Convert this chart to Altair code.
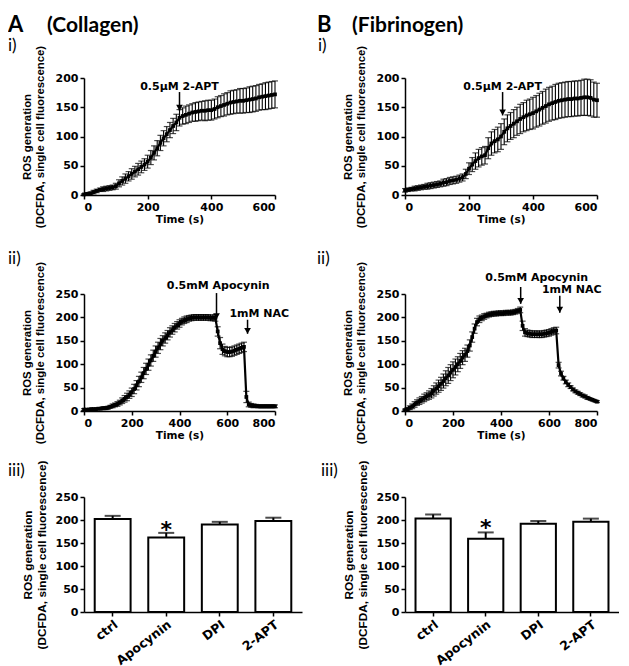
import altair as alt
import pandas as pd

# ---------------- data ----------------
T_I = list(range(0, 601, 10))
T_II = list(range(0, 801, 10))

A_I_MEAN = [1, 2, 3, 5, 7, 9, 10, 11, 12, 13,
            15, 20, 24, 28, 32, 36, 40, 44, 48, 52,
            57, 64, 72, 80, 89, 97, 104, 111, 118, 124,
            132, 135, 137, 139, 141, 142, 143, 144, 144, 145,
            145, 147, 150, 152, 154, 156, 158, 159, 160, 161,
            161, 162, 163, 164, 165, 167, 168, 169, 170, 171, 172]
A_I_SEM = [1, 2, 2, 3, 3, 3, 4, 4, 4, 4,
           5, 6, 7, 8, 8, 9, 9, 10, 10, 10,
           11, 12, 12, 13, 13, 13, 13, 13, 13, 14,
           14, 14, 15, 15, 15, 16, 16, 16, 17, 17,
           17, 17, 18, 18, 19, 19, 20, 20, 20, 21,
           21, 21, 22, 22, 22, 22, 22, 23, 23, 23, 23]

B_I_MEAN = [8, 9, 10, 11, 12, 13, 14, 15, 16, 17,
            18, 19, 21, 22, 24, 25, 26, 28, 30, 36,
            45, 52, 58, 63, 66, 68, 80, 88, 92, 95,
            100, 108, 114, 118, 122, 126, 130, 133, 136, 138,
            140, 143, 146, 149, 152, 155, 157, 159, 161, 162,
            163, 164, 164, 165, 165, 166, 167, 167, 166, 163, 162]
B_I_SEM = [3, 3, 3, 4, 4, 4, 4, 5, 5, 5,
           5, 5, 6, 6, 6, 6, 6, 6, 6, 8,
           10, 12, 14, 15, 15, 15, 18, 20, 20, 21,
           22, 22, 23, 23, 24, 24, 25, 25, 26, 26,
           27, 27, 28, 28, 29, 29, 29, 30, 30, 30,
           30, 30, 30, 30, 30, 30, 31, 31, 31, 30, 29]

A_II_MEAN = [3, 3, 3, 4, 4, 4, 5, 5, 6, 6,
             7, 9, 11, 13, 15, 18, 22, 26, 30, 35,
             40, 47, 55, 63, 72, 81, 90, 99, 108, 118,
             127, 135, 143, 150, 156, 162, 168, 173, 178, 183,
             187, 191, 194, 196, 198, 199, 200, 200, 200, 200,
             200, 200, 200, 199, 199, 199, 170, 145, 132, 128,
             126, 126, 127, 129, 131, 133, 135, 137, 30, 14,
             12, 11, 11, 10, 10, 10, 10, 10, 10, 10, 10]
A_II_SEM = [2, 2, 2, 2, 2, 2, 2, 2, 3, 3,
            3, 3, 4, 4, 5, 5, 6, 7, 8, 8,
            9, 10, 10, 11, 11, 12, 12, 12, 12, 12,
            12, 12, 12, 11, 11, 10, 10, 9, 9, 8,
            8, 7, 7, 7, 6, 6, 6, 6, 6, 6,
            6, 6, 6, 6, 6, 7, 10, 12, 11, 10,
            10, 10, 10, 10, 10, 10, 10, 10, 12, 5,
            4, 4, 3, 3, 3, 3, 3, 3, 3, 3, 3]

B_II_MEAN = [2, 4, 7, 10, 14, 18, 21, 24, 28, 31,
             34, 38, 43, 48, 53, 58, 64, 70, 76, 82,
             88, 94, 100, 107, 114, 120, 128, 140, 158, 176,
             190, 196, 199, 202, 204, 206, 207, 208, 208, 209,
             209, 209, 210, 210, 210, 211, 212, 214, 216, 182,
             168, 166, 165, 164, 164, 164, 164, 164, 165, 166,
             167, 169, 171, 172, 98, 80, 70, 62, 56, 51,
             46, 42, 39, 36, 33, 31, 28, 26, 24, 22, 20]
B_II_SEM = [2, 3, 4, 5, 6, 6, 7, 7, 8, 8,
            9, 10, 11, 12, 13, 14, 15, 16, 17, 17,
            17, 17, 16, 16, 15, 14, 13, 12, 11, 10,
            8, 7, 6, 6, 5, 5, 5, 5, 5, 5,
            5, 5, 5, 5, 5, 5, 5, 5, 6, 10,
            8, 7, 7, 7, 7, 7, 7, 7, 7, 7,
            7, 7, 7, 7, 6, 5, 4, 4, 4, 3,
            3, 3, 3, 3, 3, 3, 3, 2, 2, 2, 2]

BAR_CATS = ["ctrl", "Apocynin", "DPI", "2-APT"]
A_III_MEAN = [202, 162, 190, 198]
A_III_SEM = [7, 10, 6, 7]
B_III_MEAN = [203, 159, 192, 196]
B_III_SEM = [9, 14, 6, 7]

Y_TITLE = ["ROS generation", "(DCFDA, single cell fluorescence)"]

# annotations: label, text x/y (data units), arrow x, arrow top, arrow tip
A_I_ANN = {"label": ["0.5\u00b5M 2-APT"], "tx": [300], "ty": [179], "ax": [300], "ytop": [176], "ytip": [144]}
B_I_ANN = {"label": ["0.5\u00b5M 2-APT"], "tx": [305], "ty": [179], "ax": [305], "ytop": [176], "ytip": [136]}
A_II_ANN = {"label": ["0.5mM Apocynin", "1mM NAC"], "tx": [562, 734], "ty": [261, 201],
            "ax": [555, 685], "ytop": [252, 195], "ytip": [196, 165]}
B_II_ANN = {"label": ["0.5mM Apocynin", "1mM NAC"], "tx": [549, 695], "ty": [277, 252],
            "ax": [482, 645], "ytop": [265, 246], "ytip": [229, 210]}

BLACK = "black"


def label(text, x, y, size=17, font="Lato", weight="normal"):
    return alt.Chart(pd.DataFrame({"s": [text]})).mark_text(
        font=font, fontSize=size, fontWeight=weight, align="left",
        baseline="alphabetic", color=BLACK
    ).encode(x=alt.value(x), y=alt.value(y), text="s:N")


def ts_panel(t, mean, sem, xmax, ymax, w, h, ann, labels):
    df = pd.DataFrame({"t": t, "m": mean,
                       "lo": [m - s for m, s in zip(mean, sem)],
                       "hi": [m + s for m, s in zip(mean, sem)]})
    xs = alt.Scale(domain=[0, xmax], nice=False)
    ys = alt.Scale(domain=[0, ymax], nice=False)
    xax = alt.Axis(values=list(range(0, xmax + 1, 200)), title="Time (s)",
                   titleFont="DejaVu Sans", titleFontSize=10.5, titleFontWeight="bold",
                   titlePadding=2)
    yax = alt.Axis(values=list(range(0, ymax + 1, 50)), title=Y_TITLE,
                   titleFont="Liberation Sans", titleFontSize=11.4, titleFontWeight="bold",
                   titleLineHeight=13, titlePadding=10)

    def X(f):
        return alt.X(f, scale=xs, axis=xax)

    def Y(f):
        return alt.Y(f, scale=ys, axis=yax)

    base = alt.Chart(df)
    err = base.mark_rule(color=BLACK, strokeWidth=1.1).encode(
        x=X("t:Q"), y=Y("lo:Q"), y2="hi:Q")
    cap_hi = base.mark_tick(color=BLACK, orient="horizontal", size=6, thickness=1.2).encode(
        x=X("t:Q"), y=Y("hi:Q"))
    cap_lo = base.mark_tick(color=BLACK, orient="horizontal", size=6, thickness=1.2).encode(
        x=X("t:Q"), y=Y("lo:Q"))
    line = base.mark_line(color=BLACK, strokeWidth=2.2).encode(x=X("t:Q"), y=Y("m:Q"))
    pts = base.mark_square(color=BLACK, size=14, opacity=1).encode(x=X("t:Q"), y=Y("m:Q"))

    adf = pd.DataFrame(ann)
    txt = alt.Chart(adf).mark_text(font="DejaVu Sans", fontWeight="bold", fontSize=11,
                                   align="center", baseline="alphabetic", color=BLACK).encode(
        x=X("tx:Q"), y=Y("ty:Q"), text="label:N")
    arr = alt.Chart(adf).mark_rule(color=BLACK, strokeWidth=1.5).encode(
        x=X("ax:Q"), y=Y("ytop:Q"), y2="ytip:Q")
    head = alt.Chart(adf).mark_point(shape="triangle-down", filled=True, color=BLACK,
                                     size=45, opacity=1, yOffset=-3).encode(
        x=X("ax:Q"), y=Y("ytip:Q"))
    layers = [err, cap_hi, cap_lo, line, pts, arr, head, txt] + labels
    return alt.layer(*layers).properties(width=w, height=h)


def bar_panel(vals, sems, star_y, w, h, labels):
    df = pd.DataFrame({"c": BAR_CATS, "v": vals,
                       "hi": [v + s for v, s in zip(vals, sems)]})
    xscale = alt.Scale(paddingInner=0.33, paddingOuter=0.2)
    xax = alt.Axis(title=None, labelAngle=-37, labelFontSize=12.5)
    yscale = alt.Scale(domain=[0, 250], nice=False)
    yax = alt.Axis(values=list(range(0, 251, 50)), title=Y_TITLE,
                   titleFont="Liberation Sans", titleFontSize=11.8,
                   titleFontWeight="bold", titleLineHeight=14, titlePadding=8)

    def X():
        return alt.X("c:N", sort=BAR_CATS, scale=xscale, axis=xax)

    def Y(f):
        return alt.Y(f, scale=yscale, axis=yax)

    base = alt.Chart(df)
    bars = base.mark_bar(fill="white", stroke=BLACK, strokeWidth=2).encode(x=X(), y=Y("v:Q"))
    err = base.mark_rule(color=BLACK, strokeWidth=2).encode(x=X(), y=Y("v:Q"), y2="hi:Q")
    cap = base.mark_tick(color=BLACK, orient="horizontal", size=16, thickness=2).encode(
        x=X(), y=Y("hi:Q"))
    star = alt.Chart(pd.DataFrame({"c": ["Apocynin"], "v": [star_y], "s": ["*"]})).mark_text(
        font="DejaVu Sans", fontSize=22, fontWeight="bold", baseline="middle", dy=6,
        color=BLACK).encode(x=X(), y=Y("v:Q"), text="s:N")
    return alt.layer(bars, err, cap, star, *labels).properties(width=w, height=h)


def spacer(h):
    return alt.Chart(pd.DataFrame({"z": [0]})).mark_point(opacity=0).encode(
        x=alt.value(0), y=alt.value(0)).properties(width=1, height=h)


a1 = ts_panel(T_I, A_I_MEAN, A_I_SEM, 600, 200, 191, 117, A_I_ANN,
              [label("A", -76, -46, size=22, weight="bold"),
               label("(Collagen)", -37, -46, size=21, weight="bold"),
               label("i)", -76, -27)])
b1 = ts_panel(T_I, B_I_MEAN, B_I_SEM, 600, 200, 192, 117, B_I_ANN,
              [label("B", -88, -46, size=22, weight="bold"),
               label("(Fibrinogen)", -53, -46, size=21, weight="bold"),
               label("i)", -87, -27)])
a2 = ts_panel(T_II, A_II_MEAN, A_II_SEM, 800, 250, 191, 117, A_II_ANN,
              [label("ii)", -76, -30)])
b2 = ts_panel(T_II, B_II_MEAN, B_II_SEM, 800, 250, 192, 117, B_II_ANN,
              [label("ii)", -88, -30)])
a3 = bar_panel(A_III_MEAN, A_III_SEM, 192, 218, 115, [label("iii)", -76, -21)])
b3 = bar_panel(B_III_MEAN, B_III_SEM, 195, 214, 115, [label("iii)", -84, -21)])

chart = alt.concat(
    a1, b1, spacer(19), spacer(19), a2, b2, spacer(6), spacer(6), a3, b3,
    columns=2, spacing={"row": 40, "column": 103}, bounds="flush", align="each"
).properties(
    padding={"left": 0, "top": 6, "right": 0, "bottom": 6}
).configure_view(stroke=None).configure_axis(
    domainColor=BLACK, domainWidth=1.5, tickColor=BLACK, tickWidth=1.5, tickSize=4,
    labelColor=BLACK, labelFont="DejaVu Sans", labelFontWeight="bold", labelFontSize=11,
    labelPadding=2, labelOverlap=False, titleColor=BLACK, grid=False
)

chart.save("out.html", embed_options={"renderer": "svg", "actions": False})
